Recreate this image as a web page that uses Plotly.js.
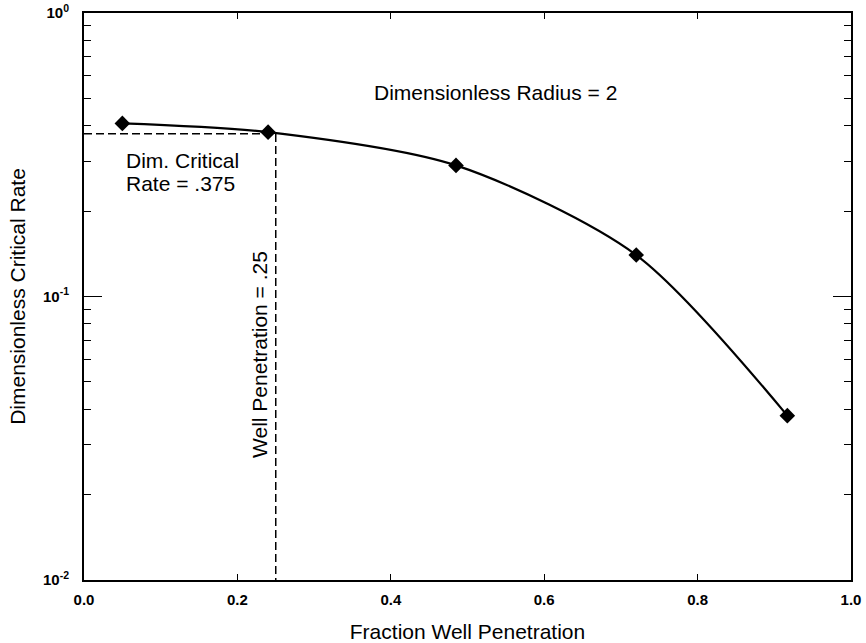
<!DOCTYPE html>
<html>
<head>
<meta charset="utf-8">
<script src="https://cdn.plot.ly/plotly-3.0.1.min.js"></script>
<style>
html,body{margin:0;padding:0;background:#fff;}
#chart{width:866px;height:643px;}
</style>
</head>
<body>
<div id="chart"></div>
<script>
// Data
const penetration = [0.05, 0.24, 0.485, 0.72, 0.917];
const criticalRate = [0.408, 0.38, 0.29, 0.14, 0.038];

const refPenetration = [0, 0.25, 0.25];
const refRate = [0.375, 0.375, 0.01];

const xTickVals = [0, 0.2, 0.4, 0.6, 0.8, 1.0];
const xTickText = ['0.0', '0.2', '0.4', '0.6', '0.8', '1.0'];
const yTickVals = [0.01, 0.1, 1];
const yTickText = ['10<sup>-2</sup>', '10<sup>-1</sup>', '10<sup>0</sup>'];
const yMinorVals = [0.02,0.03,0.04,0.05,0.06,0.07,0.08,0.09,0.2,0.3,0.4,0.5,0.6,0.7,0.8,0.9];

const FONT = 'Liberation Sans, Arial, Helvetica, sans-serif';
const TXT = 21;

const traces = [
  {
    x: refPenetration, y: refRate, mode: 'lines', type: 'scatter',
    line: {color: '#000', width: 1.5, dash: '8px,4px'},
    hoverinfo: 'skip', showlegend: false
  },
  {
    x: penetration, y: criticalRate, mode: 'lines+markers', type: 'scatter',
    line: {color: '#000', width: 2.2, shape: 'spline', smoothing: 0.8},
    marker: {symbol: 'diamond', size: 12, color: '#000'},
    showlegend: false
  }
];

const layout = {
  width: 866, height: 643,
  margin: {l: 84, r: 15, t: 13, b: 63},
  paper_bgcolor: '#fff', plot_bgcolor: '#fff',
  font: {family: FONT, color: '#000', size: TXT},
  xaxis: {
    range: [0, 1],
    tickvals: xTickVals, ticktext: xTickText,
    ticks: 'inside', ticklen: 6, tickwidth: 1, tickcolor: '#000',
    showline: true, linecolor: '#000', linewidth: 2, mirror: 'allticks',
    showgrid: false, zeroline: false,
    tickfont: {family: FONT, size: 15, weight: 'bold'},
    ticklabelstandoff: 5,
    title: {text: 'Fraction Well Penetration', font: {family: FONT, size: TXT}, standoff: 17}
  },
  yaxis: {
    type: 'log', range: [-2, 0],
    tickvals: yTickVals, ticktext: yTickText,
    ticks: 'inside', ticklen: 18, tickwidth: 1, tickcolor: '#000',
    minor: {tickvals: yMinorVals, ticks: 'inside', ticklen: 7, tickwidth: 1, tickcolor: '#000', showgrid: false},
    showline: true, linecolor: '#000', linewidth: 2, mirror: 'allticks',
    showgrid: false, zeroline: false,
    tickfont: {family: FONT, size: 15, weight: 'bold'},
    ticklabelstandoff: 10,
    title: {text: 'Dimensionless Critical Rate', font: {family: FONT, size: TXT}, standoff: 12}
  },
  annotations: [
    {x: 0.537, y: -0.279, xref: 'x', yref: 'y', text: 'Dimensionless Radius = 2',
     showarrow: false, font: {family: FONT, size: TXT}},
    {x: 0.0525, y: -0.522, xref: 'x', yref: 'y', xanchor: 'left', align: 'left',
     text: 'Dim. Critical', showarrow: false, font: {family: FONT, size: TXT}},
    {x: 0.0525, y: -0.600, xref: 'x', yref: 'y', xanchor: 'left', align: 'left',
     text: 'Rate = .375', showarrow: false, font: {family: FONT, size: TXT}},
    {x: 0.2295, y: -1.206, xref: 'x', yref: 'y', textangle: -90,
     text: 'Well Penetration = .25', showarrow: false, font: {family: FONT, size: TXT}}
  ]
};

Plotly.newPlot('chart', traces, layout, {displayModeBar: false, staticPlot: true});
</script>
</body>
</html>
